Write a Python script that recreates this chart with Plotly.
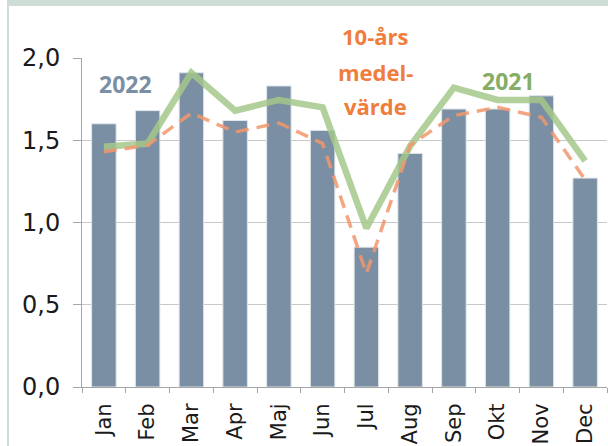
import plotly.graph_objects as go

months = ["Jan", "Feb", "Mar", "Apr", "Maj", "Jun", "Jul", "Aug", "Sep", "Okt", "Nov", "Dec"]
v2022 = [1.60, 1.68, 1.91, 1.62, 1.83, 1.56, 0.85, 1.42, 1.69, 1.69, 1.77, 1.27]
v2021 = [1.46, 1.48, 1.91, 1.68, 1.745, 1.70, 0.965, 1.465, 1.82, 1.745, 1.745, 1.375]
avg10 = [1.43, 1.47, 1.665, 1.55, 1.605, 1.48, 0.69, 1.47, 1.65, 1.70, 1.64, 1.26]
yticks = [0, 0.5, 1.0, 1.5, 2.0]
ytext = ["0,0", "0,5", "1,0", "1,5", "2,0"]

W, H = 608, 446
L, R, T, B = 82, 1, 58, 59
pw, ph = W - L - R, H - T - B

def px(x):
    return (x - L) / pw

def py(y):
    return (H - B - y) / ph

fig = go.Figure()
fig.add_bar(x=months, y=v2022, marker=dict(color="#7a8fa3", line=dict(color="#dfe5ea", width=1)),
            width=0.56, showlegend=False)
fig.add_scatter(x=months, y=v2021, mode="lines", line=dict(color="rgba(165,200,138,0.85)", width=6.5),
                showlegend=False)
fig.add_scatter(x=months, y=avg10, mode="lines",
                line=dict(color="rgba(242,150,108,0.85)", width=3.5, dash="13px,8px"),
                showlegend=False)

tick_font = dict(family="DejaVu Sans", size=24, color="#1a1a1a")
lab_font = "Open Sans, Liberation Sans"

def lab(text, x, y, size, color):
    return dict(text="<b>" + text + "</b>", xref="paper", yref="paper", x=px(x), y=py(y),
                xanchor="center", yanchor="middle", showarrow=False,
                font=dict(family=lab_font, size=size, color=color))

fig.update_layout(
    width=W, height=H, margin=dict(l=L, r=R, t=T, b=B),
    paper_bgcolor="white", plot_bgcolor="white", bargap=0.44,
    xaxis=dict(type="category", tickangle=-90, tickfont=dict(family="DejaVu Sans", size=21, color="#1a1a1a"),
               showline=True, linecolor="#a6a6a6", linewidth=1, ticks="outside", tickson="boundaries",
               ticklen=5, tickcolor="#a6a6a6", showgrid=False, range=[-0.5, 11.5],
               ticklabelstandoff=7),
    yaxis=dict(range=[0, 2.0], tickvals=yticks, ticktext=ytext, tickfont=tick_font,
               showline=True, linecolor="#a6a6a6", linewidth=1, ticks="outside", ticklen=8,
               tickcolor="#a6a6a6", showgrid=True, gridcolor="#c8c8c8", gridwidth=1, zeroline=False,
               ticklabelstandoff=8),
    shapes=[
        dict(type="rect", xref="paper", yref="paper", x0=px(7), x1=px(608), y0=py(0), y1=py(6),
             fillcolor="#cfddd7", line=dict(width=0), layer="above"),
        dict(type="rect", xref="paper", yref="paper", x0=px(7), x1=px(9), y0=py(6), y1=py(446),
             fillcolor="#cfddd7", line=dict(width=0), layer="above"),
    ],
    annotations=[
        lab("2022", 125, 84, 23, "#7a8fa3"),
        lab("2021", 508, 81, 23, "#86ad66"),
        lab("10-års", 375, 36, 22, "#f07d3c"),
        lab("medel-", 375, 72, 22, "#f07d3c"),
        lab("värde", 375, 106, 22, "#f07d3c"),
    ],
)
fig.write_html("out.html", config={"displayModeBar": False},
               post_script="document.body.style.margin='0';document.body.style.overflow='hidden';")
